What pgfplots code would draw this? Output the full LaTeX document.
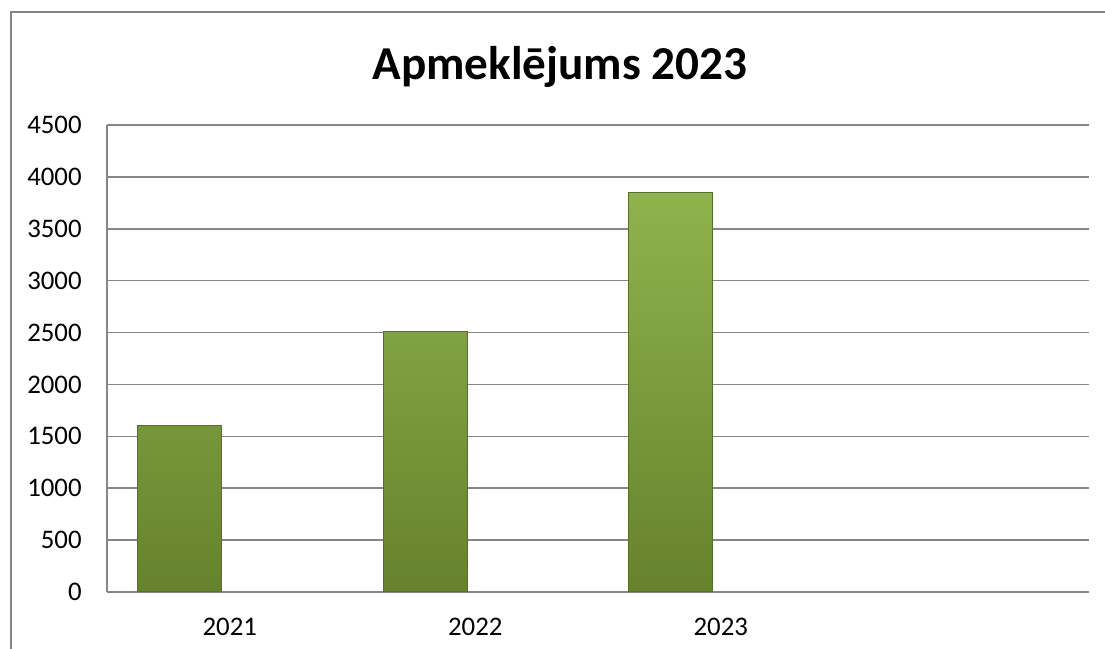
\documentclass[border=0pt]{standalone}
\usepackage{fontspec}
\setmainfont{Carlito}
\usepackage{pgfplots}
\pgfplotsset{compat=1.18}
\definecolor{gridgray}{HTML}{868686}
\definecolor{bartop}{HTML}{8FB34D}
\definecolor{barbot}{HTML}{66822D}
\definecolor{baredge}{HTML}{56702A}
\begin{document}
\begin{tikzpicture}
\useasboundingbox (0,0) rectangle (552.5pt,324.5pt);
\fill[white] (0,0) rectangle (552.5pt,324.5pt);
\draw[gridgray, line width=0.8pt] (5.5pt,-1pt) -- (5.5pt,318.5pt) -- (553pt,318.5pt);
\node[font=\fontsize{23.6}{28}\selectfont\bfseries, anchor=base] at (280pt,284.5pt) {Apmeklējums 2023};
\begin{axis}[
  at={(53.5pt,28.5pt)}, anchor=south west,
  scale only axis, width=491pt, height=233.5pt,
  xmin=-0.5, xmax=3.5, ymin=0, ymax=4500,
  ytick={0,500,...,4500},
  xtick={0,1,2}, xticklabels={2021,2022,2023},
  axis x line=bottom, axis y line=left,
  axis line style={gridgray, line width=0.8pt, -},
  ymajorgrids, grid style={gridgray, line width=0.8pt},
  major tick length=0pt,
  /pgf/number format/assume math mode=true,
  /pgf/number format/1000 sep={},
  ticklabel style={font=\fontsize{13.4}{15}\selectfont},
  yticklabel style={inner sep=0pt, anchor=east, xshift=-12.5pt},
  xticklabel style={inner sep=0pt, anchor=north, yshift=-13pt},
  clip=false,
]
\addplot[ybar, bar width=0.342, bar shift=-0.204, draw=baredge, line width=0.5pt,
  top color=bartop, bottom color=barbot]
  coordinates {(0,1600) (1,2510) (2,3850)};
\end{axis}
\end{tikzpicture}
\end{document}
